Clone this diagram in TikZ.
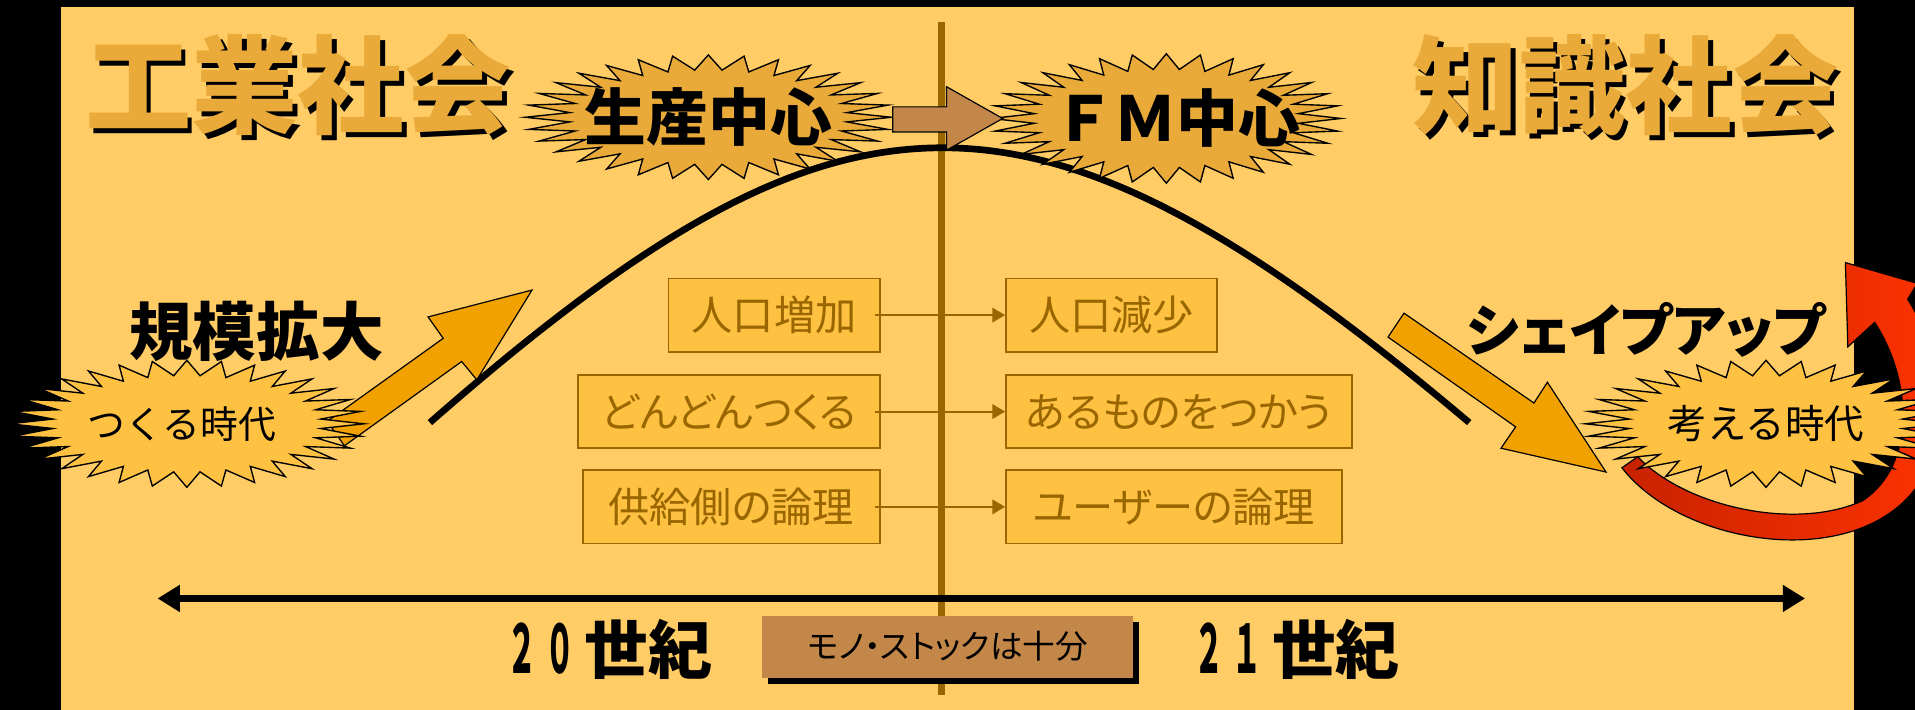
\documentclass[tikz,border=0pt]{standalone}
\usepackage{fontspec}
\usepackage{graphicx}
\setmainfont{Noto Sans CJK JP}
\newfontfamily\jpprop[RawFeature=+palt]{Noto Sans CJK JP}
\usetikzlibrary{arrows.meta}
\usetikzlibrary{shadows}
\definecolor{bgorange}{RGB}{255,204,102}
\definecolor{darkgold}{RGB}{234,170,58}
\definecolor{lightgold}{RGB}{255,193,66}
\definecolor{linebrown}{RGB}{153,102,0}
\definecolor{blockorange}{RGB}{242,162,0}
\definecolor{arrowbrown}{RGB}{196,135,74}
\definecolor{darkred}{RGB}{200,34,0}
\definecolor{brightred}{RGB}{255,51,0}
\newcommand{\narrowdigit}[1]{\scalebox{0.46}[1.05]{#1}}
\newcommand{\shadowed}[1]{\makebox[0pt][l]{\hspace{2.8pt}\raisebox{-2.8pt}{\color{black}#1}}#1}
\newcommand{\myBurst}[8]{
  \filldraw[fill=#6, draw=black, line width=0.8pt] plot[domain=0:63, samples=64, variable=\k]
    ({#2+#4*(1-0.24*mod(\k,2))*cos(5.625*\k)}, {#3+#5*(1-0.24*mod(\k,2))*sin(5.625*\k)}) -- cycle;
  \node[name=#1, #7] at (#2,#3) {#8};
}

\begin{document}
\begin{tikzpicture}[x=0.025cm, y=-0.025cm]
  \tikzset{smallbox/.style = {draw=linebrown, fill=lightgold, line width=1pt, text=linebrown, minimum height=1.5cm, inner sep=0pt, font=\jpprop\fontsize{24}{24}\selectfont}}
  \tikzset{titletext/.style = {text=darkgold, inner sep=0pt, font=\bfseries\fontsize{62}{62}\selectfont}}
  \tikzset{bursttext/.style = {inner sep=0pt, font=\bfseries\fontsize{36}{36}\selectfont}}
  \tikzset{eratext/.style = {inner sep=0pt, font=\fontsize{22}{22}\selectfont}}
  \tikzset{slogan/.style = {inner sep=0pt, font=\jpprop\bfseries\fontsize{36}{36}\selectfont}}
  \tikzset{blockarrow/.style = {fill=blockorange, draw=black, line width=0.7pt}}
  \tikzset{centurytext/.style = {inner sep=0pt, font=\bfseries\fontsize{37}{37}\selectfont}}
  \useasboundingbox (0,0) rectangle (1568,581);
  \fill[black] (0,0) rectangle (1568,581);
  \fill[bgorange] (50,6) rectangle (1518,581);
%  \draw [gray, very thin, step=50] (0,0) grid (1568,581);

  % divider and time line
  \coordinate (divTop) at (771,18);
  \coordinate (divBot) at (771,569);
  \draw[linebrown, line width=4.3pt] (divTop) -- (divBot);
  \coordinate (tStart) at (129,490);
  \coordinate (tEnd) at (1478,490);
  \draw[line width=4.5pt, {Triangle[width=15pt,length=13pt]}-{Triangle[width=15pt,length=13pt]}] (tStart) -- (tEnd);

  \draw[line width=3.9pt] (352,346) .. controls (530,190) and (650,121) .. (772,121)
    .. controls (900,121) and (1030,200) .. (1203,346);

  \node[name = indTitle, titletext] at (244,72) {\shadowed{工業社会}};
  \node[name = knowTitle, titletext] at (1331,72) {\shadowed{知識社会}};

  \myBurst{prod}{580}{96}{150}{51}{darkgold}{bursttext}{生産中心}
  \myBurst{fm}{955}{97}{143}{53}{darkgold}{bursttext, xshift=6pt}{ＦＭ中心}
  \filldraw[fill=arrowbrown, draw=black, line width=0.7pt] (731,87.5) -- (775,87.5) -- (775,71) -- (821,97)
    -- (775,123) -- (775,108) -- (731,108) -- cycle;

  \node[name = inc1, smallbox, anchor=east, minimum width=4.325cm] at (721,258) {人口増加};
  \node[name = inc2, smallbox, anchor=east, minimum width=6.175cm] at (721,337) {どんどんつくる};
  \node[name = inc3, smallbox, anchor=east, minimum width=6.075cm] at (721,415) {供給側の論理};
  \node[name = dec1, smallbox, anchor=west, minimum width=4.325cm] at (823,258) {人口減少};
  \node[name = dec2, smallbox, anchor=west, minimum width=7.075cm] at (823,337) {あるものをつかう};
  \node[name = dec3, smallbox, anchor=west, minimum width=6.875cm] at (823,415) {ユーザーの論理};

  \foreach \i in {1,2,3}
    \draw[linebrown, line width=1.2pt, -{Triangle[width=8.5pt,length=7.5pt]}] ([xshift=-3pt]inc\i.east) -- (dec\i.west);

  \node[name = grow, slogan, font=\bfseries\fontsize{37}{37}\selectfont] at (210,271) {規模拡大};
  \node[name = shape, slogan, font=\jpprop\bfseries\fontsize{33}{33}\selectfont] at (1348,270) {シェイプアップ};

  \filldraw[blockarrow] (268,345) -- (362.9,277) -- (350.5,259.5) -- (435.6,237.5) -- (390.4,311)
    -- (378,296) -- (282,365) -- cycle;
  \filldraw[blockarrow] (1149.6,256.4) -- (1256,330) -- (1267,313) -- (1315,386.5) -- (1229,367)
    -- (1241,349.5) -- (1136.5,276) -- cycle;

  \draw[left color=darkred, right color=brightred, draw=black, line width=0.7pt]
    (1328,383) .. controls (1380,450) and (1530,470) .. (1575,390)
    .. controls (1595,340) and (1585,280) .. (1562,245) -- (1570,232) -- (1511,215) -- (1513,284)
    -- (1535,264) .. controls (1565,310) and (1570,380) .. (1525,410)
    .. controls (1470,435) and (1380,415) .. (1341,374) -- cycle;

  \myBurst{make}{153}{347}{145}{52}{lightgold}{eratext, xshift=-3pt}{つくる時代}
  \myBurst{think}{1446}{347}{148}{52}{lightgold}{eratext, font=\fontsize{23}{23}\selectfont}{考える時代}

  \node[name = stock, fill=arrowbrown, minimum width=7.6cm, minimum height=1.275cm, inner sep=0pt,
    font=\jpprop\fontsize{19}{19}\selectfont,
    drop shadow={shadow xshift=3.5pt, shadow yshift=-3.5pt, opacity=1, fill=black}] at (776,529.5) {モノ・ストックは十分};
  \node[name = c20, centurytext] at (499,532) {\narrowdigit{２}\hspace{5pt}\narrowdigit{０}\hspace{6pt}世紀};
  \node[name = c21, centurytext] at (1062,532) {\narrowdigit{２}\hspace{5pt}\narrowdigit{１}\hspace{6pt}世紀};
\end{tikzpicture}
\end{document}
